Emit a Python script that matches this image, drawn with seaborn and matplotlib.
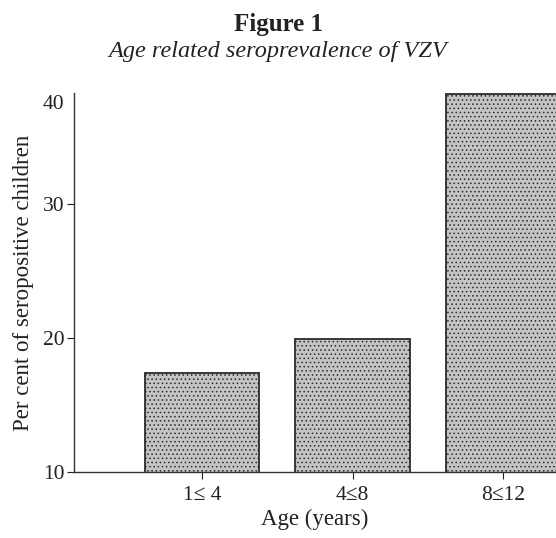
import matplotlib
matplotlib.use("Agg")
import matplotlib.pyplot as plt
import seaborn as sns
import pandas as pd

# values
age_groups = ["1\u2264 4", "4\u22648", "8\u226412"]
seropositive = [17.4, 19.9, 38.2]
tick_values = [10, 20, 30, 37.6]
tick_labels = ["10", "20", "30", "40"]

df = pd.DataFrame({"Age": age_groups, "Percent": seropositive})

sns.set_theme(style="white")
plt.rcParams["font.family"] = ["Liberation Serif", "DejaVu Serif"]
plt.rcParams["hatch.color"] = "#6e6e6e"
plt.rcParams["hatch.linewidth"] = 0.6

fig = plt.figure(figsize=(5.56, 5.38), dpi=100)
ax = fig.add_axes([0.133, 0.1227, 0.867, 0.7045])

sns.barplot(data=df, x="Age", y="Percent", ax=ax, width=0.76,
            color="#c4c4c4", edgecolor="#2b2b2b", linewidth=1.3)
for bar in ax.patches:
    bar.set_facecolor("#c4c4c4")
    bar.set_hatch("....")

ax.set_ylim(10, 38.3)
ax.set_xlim(-0.85, 2.35)
ax.set_yticks(tick_values)
ax.set_yticklabels(tick_labels)
ax.tick_params(axis="both", labelsize=15.5, colors="#222222", length=5,
               width=0.8, direction="out", bottom=True, left=True)
ax.tick_params(axis="y", pad=2)
ax.tick_params(axis="x", pad=5)
ax.yaxis.get_major_ticks()[-1].tick1line.set_visible(False)

for side in ["top", "right"]:
    ax.spines[side].set_visible(False)
for side in ["left", "bottom"]:
    ax.spines[side].set_color("#333333")
    ax.spines[side].set_linewidth(1.0)

ax.set_xlabel("Age (years)", fontsize=16.5, color="#222222", labelpad=3)
ax.set_ylabel("Per cent of seropositive children", fontsize=16.5,
              color="#222222", labelpad=6)

fig.text(0.5, 0.955, "Figure 1", ha="center", va="center", fontsize=18,
         fontweight="bold", color="#222222")
fig.text(0.5, 0.905, "Age related seroprevalence of VZV", ha="center",
         va="center", fontsize=17.5, style="italic", color="#222222")

fig.savefig("out.png", dpi=100, facecolor="white")
